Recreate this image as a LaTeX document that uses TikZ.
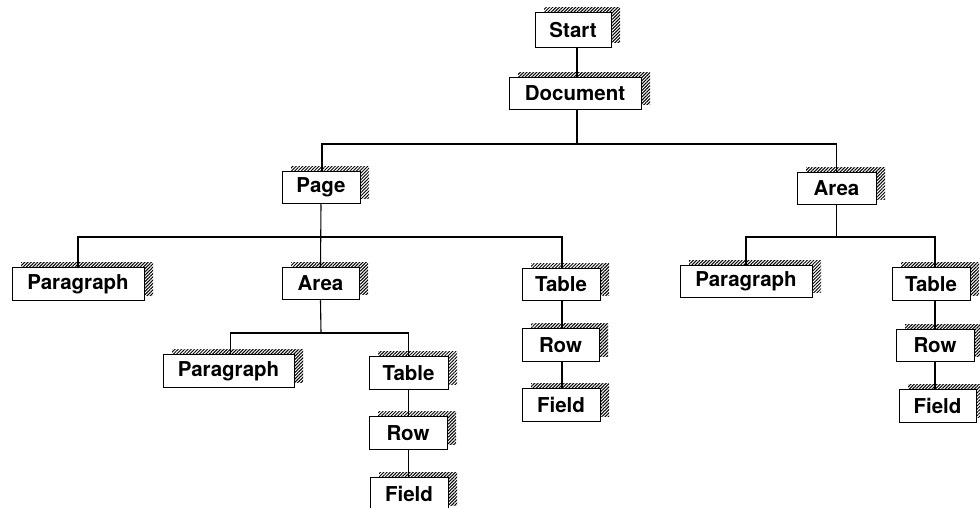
\documentclass[tikz,border=0pt]{standalone}
\usepackage{fontspec}
\setmainfont{TeX Gyre Heros}
\usetikzlibrary{shadows,patterns.meta}
\tikzset{
  nbox/.style={draw=black, line width=1pt, fill=white, inner sep=0pt,
    minimum height=32.5pt, font=\fontsize{20.5}{24}\selectfont\bfseries,
    general shadow={shadow xshift=9pt, shadow yshift=5pt,
      pattern={Lines[angle=45,distance=2.3pt,line width=1pt]}}},
  conn/.style={draw=black, line width=1.1pt}
}
\begin{document}
\begin{tikzpicture}[x=1pt,y=-1pt]
\useasboundingbox (0,0) rectangle (980,508);
% nodes
\node[nbox, minimum width=76pt, minimum height=35pt] (start) at (573,30.5) {Start};
\node[nbox, minimum width=132pt] (doc) at (575,93.5) {Document};
\node[nbox, minimum width=78pt] (page) at (321,187.5) {Page};
\node[nbox, minimum width=79pt] (areaR) at (836.5,188.5) {Area};
\node[nbox, minimum width=132pt] (par1) at (78,284) {Paragraph};
\node[nbox, minimum width=77pt] (areaM) at (320.5,283.5) {Area};
\node[nbox, minimum width=78pt] (tableM) at (561,284.5) {Table};
\node[nbox, minimum width=132pt] (parR) at (746,281.5) {Paragraph};
\node[nbox, minimum width=78pt] (tableR) at (931,284) {Table};
\node[nbox, minimum width=131pt] (par2) at (228.5,371) {Paragraph};
\node[nbox, minimum width=79pt] (table2) at (408.5,373) {Table};
\node[nbox, minimum width=78pt] (row2) at (408,433) {Row};
\node[nbox, minimum width=78pt] (field2) at (409,494) {Field};
\node[nbox, minimum width=77pt] (rowM) at (560.5,345) {Row};
\node[nbox, minimum width=78pt] (fieldM) at (561,405) {Field};
\node[nbox, minimum width=78pt] (rowR) at (935,345.5) {Row};
\node[nbox, minimum width=77pt] (fieldR) at (937.5,406) {Field};
% junctions
\coordinate (j1) at (577,144);
\coordinate (j2) at (321,237);
\coordinate (j3) at (836.5,237);
\coordinate (j4) at (321,333);
% connectors
\draw[conn] ([xshift=4pt]start.south) -- ([xshift=4pt]start.south |- doc.north);
\draw[conn] (j1 |- doc.south) -- (j1);
\draw[conn] ([xshift=1pt]page.north) |- (j1) -| (areaR.north);
\draw[conn] (page.south) -- (areaM.north);
\draw[conn] (par1.north) |- (j2) -| ([xshift=1pt]tableM.north);
\draw[conn] (areaR.south) -- (j3);
\draw[conn] (parR.north) |- (j3) -| ([xshift=4pt]tableR.north);
\draw[conn] (areaM.south) -- (j4);
\draw[conn] ([xshift=2pt]par2.north) |- (j4) -| (table2.north);
\draw[conn] (table2.south) -- (table2.south |- row2.north);
\draw[conn] (table2.south |- row2.south) -- (table2.south |- field2.north);
\draw[conn] ([xshift=1pt]tableM.south) -- ([xshift=1pt]tableM.south |- rowM.north);
\draw[conn] ([xshift=1pt]tableM.south |- rowM.south) -- ([xshift=1pt]tableM.south |- fieldM.north);
\draw[conn] ([xshift=4pt]tableR.south) -- ([xshift=4pt]tableR.south |- rowR.north);
\draw[conn] ([xshift=4pt]tableR.south |- rowR.south) -- ([xshift=4pt]tableR.south |- fieldR.north);
\end{tikzpicture}
\end{document}
